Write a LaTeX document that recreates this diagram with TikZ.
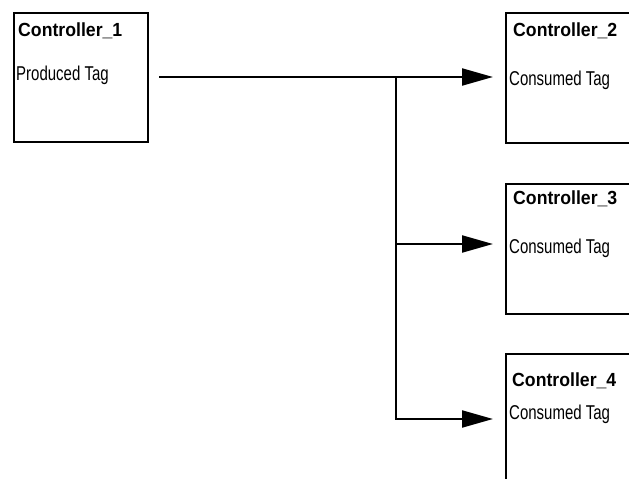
\documentclass[tikz,border=0pt]{standalone}
\usepackage{fontspec}
\setmainfont{Liberation Sans}
\usepackage{graphicx}
\usetikzlibrary{arrows.meta}
\newcommand\ctrltitle[1]{\scalebox{0.93}[1]{\fontsize{19}{21}\selectfont\bfseries #1}}
\newcommand\ctrltag[1]{\scalebox{0.75}[1]{\fontsize{20}{22}\selectfont #1}}
\begin{document}
\begin{tikzpicture}[x=1pt,y=-1pt,
  ctrlbox/.style={draw=black,line width=2.2pt,inner sep=0pt},
  lbl/.style={anchor=base west,inner sep=0pt,text=black},
  link/.style={draw=black,line width=2.2pt,-{Triangle[length=31pt,width=17pt]}},
  wire/.style={draw=black,line width=2.2pt}]
\useasboundingbox (0,0) rectangle (629,479);
\clip (0,0) rectangle (629,479);
\node[ctrlbox,minimum width=134pt,minimum height=129pt,anchor=north west] (c1) at (13,12) {};
\node[ctrlbox,minimum width=160pt,minimum height=130pt,anchor=north west] (c2) at (505,12) {};
\node[ctrlbox,minimum width=160pt,minimum height=130pt,anchor=north west] (c3) at (505,183) {};
\node[ctrlbox,minimum width=160pt,minimum height=160pt,anchor=north west] (c4) at (505,353) {};
\node[lbl] (t1) at (18,36) {\ctrltitle{Controller\_1}};
\node[lbl] (p1) at (16,80) {\ctrltag{Produced Tag}};
\node[lbl] (t2) at (513,36) {\ctrltitle{Controller\_2}};
\node[lbl] (p2) at (509,85) {\ctrltag{Consumed Tag}};
\node[lbl] (t3) at (513,204) {\ctrltitle{Controller\_3}};
\node[lbl] (p3) at (509,253) {\ctrltag{Consumed Tag}};
\node[lbl] (t4) at (512,386) {\ctrltitle{Controller\_4}};
\node[lbl] (p4) at (509,419) {\ctrltag{Consumed Tag}};
\coordinate (s) at (159,77);
\coordinate (j) at (396,77);
\coordinate (a2) at (493,77);
\coordinate (a3) at (493,244);
\coordinate (a4) at (493,419);
\draw[link] (s) -- (a2);
\draw[link] (j) |- (a3);
\draw[link] (j) |- (a4);
\end{tikzpicture}
\end{document}
